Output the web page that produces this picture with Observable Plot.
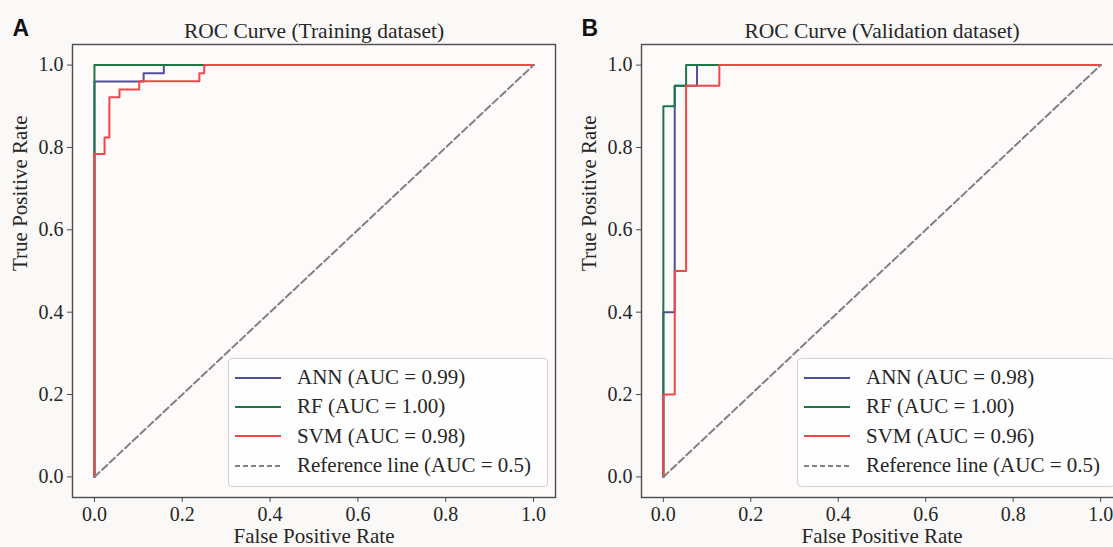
<!DOCTYPE html>
<html>
<head>
<meta charset="utf-8">
<script src="https://cdn.jsdelivr.net/npm/d3@7"></script>
<script src="https://cdn.jsdelivr.net/npm/@observablehq/plot@0.6"></script>
<style>
  html, body { margin: 0; padding: 0; overflow: hidden; background: #fbf9f7; }
  #wrap { position: relative; width: 1113px; height: 547px; overflow: hidden; background: #fbf9f7; }
  .panel { position: absolute; top: 0; overflow: visible; }
  .panel svg { max-width: none !important; }
  .legend { position: absolute; box-sizing: border-box; border: 1px solid #d2d2d2; border-radius: 4px;
            background: rgba(255,255,255,0.8); padding-top: 4px;
            font-family: 'Liberation Serif', 'Times New Roman', serif; font-size: 21px; color: #262626; }
  .legend .row { height: 29.3px; display: flex; align-items: center; white-space: nowrap; }
  .legend svg { margin-left: 6px; margin-right: 16px; flex: none; }
</style>
</head>
<body>
<div id="wrap"></div>
<script>
// ---- data ----
const models = ["ANN", "RF", "SVM"];
const colors = ["#50509a", "#1d7747", "#f04848"];
const refColor = "#808080";
const aucTrain = ["0.99", "1.00", "0.98"];
const aucVal = ["0.98", "1.00", "0.96"];
const refLabel = "Reference line (AUC = 0.5)";
const ticks = [0, 0.2, 0.4, 0.6, 0.8, 1.0];

// Training dataset ROC points
const trainAnnFpr = [0, 0, 0.112, 0.112, 0.158, 0.158, 1];
const trainAnnTpr = [0, 0.96, 0.96, 0.98, 0.98, 1, 1];
const trainRfFpr = [0, 0, 1];
const trainRfTpr = [0, 1, 1];
const trainSvmFpr = [0, 0, 0.023, 0.023, 0.034, 0.034, 0.057, 0.057, 0.102, 0.102, 0.239, 0.239, 0.25, 0.25, 1];
const trainSvmTpr = [0, 0.784, 0.784, 0.824, 0.824, 0.922, 0.922, 0.941, 0.941, 0.961, 0.961, 0.98, 0.98, 1, 1];

// Validation dataset ROC points
const valAnnFpr = [0, 0, 0.026, 0.026, 0.077, 0.077, 1];
const valAnnTpr = [0, 0.4, 0.4, 0.95, 0.95, 1, 1];
const valRfFpr = [0, 0, 0.026, 0.026, 0.052, 0.052, 1];
const valRfTpr = [0, 0.9, 0.9, 0.95, 0.95, 1, 1];
const valSvmFpr = [0, 0, 0.026, 0.026, 0.052, 0.052, 0.128, 0.128, 1];
const valSvmTpr = [0, 0.2, 0.2, 0.5, 0.5, 0.95, 0.95, 1, 1];

const refFpr = [0, 1];
const refTpr = [0, 1];

const toPts = (fx, ty) => fx.map((f, i) => ({fpr: f, tpr: ty[i]}));

const serif = "'Liberation Serif', 'Times New Roman', serif";
const sans = "'Liberation Sans', Arial, sans-serif";

function makePanel(letter, title, curves, width) {
  const marks = [
    Plot.frame({fill: "#fdfaf9", stroke: null}),
    ...curves.map((c, i) => Plot.line(toPts(c[0], c[1]), {x: "fpr", y: "tpr", stroke: colors[i], strokeWidth: 2})),
    Plot.line(toPts(refFpr, refTpr), {x: "fpr", y: "tpr", stroke: refColor, strokeWidth: 2, strokeDasharray: "7,3.5"}),
    Plot.frame({stroke: "#4d4d4d", strokeWidth: 1.4}),
    Plot.axisX({ticks, tickFormat: d3.format(".1f"), tickSize: 5, tickPadding: 4, label: null, fontSize: 20, fill: "#262626", stroke: "#4d4d4d"}),
    Plot.axisY({ticks, tickFormat: d3.format(".1f"), tickSize: 5, tickPadding: 4, label: null, fontSize: 20, fill: "#262626", stroke: "#4d4d4d"}),
    Plot.text([title], {frameAnchor: "top", lineAnchor: "bottom", dy: -7, text: d => d, fontSize: 21.5, fill: "#262626"}),
    Plot.text(["False Positive Rate"], {frameAnchor: "bottom", lineAnchor: "bottom", dy: 45, text: d => d, fontSize: 21, fill: "#262626"}),
    Plot.text(["True Positive Rate"], {frameAnchor: "left", lineAnchor: "middle", rotate: -90, dx: -52, text: d => d, fontSize: 21, fill: "#262626"}),
    Plot.text([letter], {frameAnchor: "top-left", textAnchor: "start", lineAnchor: "bottom", dx: -60, dy: -9, text: d => d, fontSize: 23, fontWeight: "bold", fontFamily: sans, fill: "#111"})
  ];
  return Plot.plot({
    width, height: 547,
    marginLeft: 72, marginRight: 15, marginTop: 44, marginBottom: 50,
    x: {domain: [-0.05, 1.05]},
    y: {domain: [-0.05, 1.05]},
    style: {fontFamily: serif, fontSize: "20px", background: "transparent", overflow: "visible", maxWidth: "none"},
    marks
  });
}

function makeLegend(left, top, width, aucs) {
  const div = document.createElement("div");
  div.className = "legend";
  div.style.left = left + "px";
  div.style.top = top + "px";
  div.style.width = width + "px";
  div.style.height = "129px";
  const rows = models.map((m, i) => ({label: `${m} (AUC = ${aucs[i]})`, color: colors[i], dash: null}));
  rows.push({label: refLabel, color: refColor, dash: "5,3"});
  for (const r of rows) {
    const row = document.createElement("div");
    row.className = "row";
    const svg = d3.create("svg").attr("width", 46).attr("height", 10);
    svg.append("line").attr("x1", 0).attr("x2", 46).attr("y1", 5).attr("y2", 5)
      .attr("stroke", r.color).attr("stroke-width", 2).attr("stroke-dasharray", r.dash);
    row.appendChild(svg.node());
    const span = document.createElement("span");
    span.textContent = r.label;
    row.appendChild(span);
    div.appendChild(row);
  }
  return div;
}

const wrap = document.getElementById("wrap");

const pA = document.createElement("div");
pA.className = "panel"; pA.style.left = "0px"; pA.style.width = "570px";
pA.appendChild(makePanel("A", "ROC Curve (Training dataset)",
  [[trainAnnFpr, trainAnnTpr], [trainRfFpr, trainRfTpr], [trainSvmFpr, trainSvmTpr]], 570));
wrap.appendChild(pA);

const pB = document.createElement("div");
pB.className = "panel"; pB.style.left = "569px"; pB.style.width = "568px";
pB.appendChild(makePanel("B", "ROC Curve (Validation dataset)",
  [[valAnnFpr, valAnnTpr], [valRfFpr, valRfTpr], [valSvmFpr, valSvmTpr]], 568));
wrap.appendChild(pB);

wrap.appendChild(makeLegend(228, 358, 320, aucTrain));
wrap.appendChild(makeLegend(797, 358, 318, aucVal));
</script>
</body>
</html>
